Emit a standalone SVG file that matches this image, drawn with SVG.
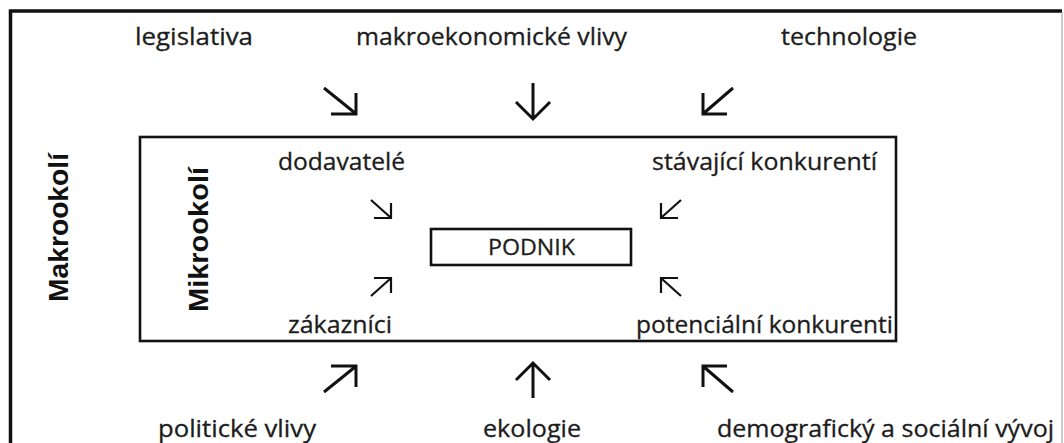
<svg xmlns="http://www.w3.org/2000/svg" width="1064" height="443" viewBox="0 0 1064 443">
  <style>
    .lbl { font-family: "Open Sans", "Noto Sans", "Liberation Sans", sans-serif; font-size: 24px; fill: #1c1c1c; stroke: #1c1c1c; stroke-width: 0.3; }
    .small { font-size: 22px; }
    .title { font-family: "Liberation Sans", Arial, sans-serif; font-weight: bold; font-size: 28px; fill: #111; text-anchor: middle; }
    .frame { fill: none; stroke: #111; }
    .arrow { fill: none; stroke: #111; stroke-linecap: butt; stroke-linejoin: miter; }
    .big { stroke-width: 3; }
    .sm { stroke-width: 2.2; }
  </style>

  <rect width="1064" height="443" fill="#fff"/>

  <!-- outer frame: macro environment -->
  <g id="makrookoli">
    <path class="frame" d="M10.5,450 V11 H1062" stroke-width="3.5"/>
    <line x1="1062" y1="12" x2="1062" y2="450" stroke="#9a9a9a" stroke-width="1"/>
    <text class="title" transform="translate(68,227.5) rotate(-90)" textLength="149" lengthAdjust="spacingAndGlyphs">Makrookolí</text>
  </g>

  <!-- inner frame: micro environment -->
  <g id="mikrookoli">
    <rect class="frame" x="140" y="137" width="756" height="204" stroke-width="2.6"/>
    <text class="title" transform="translate(208,239.5) rotate(-90)" textLength="145" lengthAdjust="spacingAndGlyphs">Mikrookolí</text>
  </g>

  <!-- centre: the company -->
  <g id="podnik">
    <rect class="frame" x="431" y="229" width="200" height="36" stroke-width="2.6"/>
    <text class="lbl small" x="488" y="255" textLength="87" lengthAdjust="spacingAndGlyphs">PODNIK</text>
  </g>

  <!-- macro factors -->
  <g id="legislativa"><text class="lbl" x="135" y="45" textLength="118" lengthAdjust="spacingAndGlyphs">legislativa</text></g>
  <g id="makroekonomicke-vlivy"><text class="lbl" x="356" y="45" textLength="271" lengthAdjust="spacingAndGlyphs">makroekonomické vlivy</text></g>
  <g id="technologie"><text class="lbl" x="781" y="45" textLength="136" lengthAdjust="spacingAndGlyphs">technologie</text></g>
  <g id="politicke-vlivy"><text class="lbl" x="158" y="437" textLength="158" lengthAdjust="spacingAndGlyphs">politické vlivy</text></g>
  <g id="ekologie"><text class="lbl" x="483" y="437" textLength="98" lengthAdjust="spacingAndGlyphs">ekologie</text></g>
  <g id="demograficky-vyvoj"><text class="lbl" x="717" y="437" textLength="337" lengthAdjust="spacingAndGlyphs">demografický a sociální vývoj</text></g>

  <!-- micro factors -->
  <g id="dodavatele"><text class="lbl" x="278" y="170" textLength="127" lengthAdjust="spacingAndGlyphs">dodavatelé</text></g>
  <g id="stavajici-konkurenti"><text class="lbl" x="652" y="170" textLength="225" lengthAdjust="spacingAndGlyphs">stávající konkurentí</text></g>
  <g id="zakaznici"><text class="lbl" x="288" y="333" textLength="104" lengthAdjust="spacingAndGlyphs">zákazníci</text></g>
  <g id="potencialni-konkurenti"><text class="lbl" x="636" y="333" textLength="257" lengthAdjust="spacingAndGlyphs">potenciální konkurenti</text></g>

  <!-- influence arrows -->
  <g id="connectors">
    <!-- macro, top row -->
    <path class="arrow big" d="M324,88 L355,113 M356,93 V114 H331"/>
    <path class="arrow big" d="M533,83 V119 M516,102 L533,119 L550,102"/>
    <path class="arrow big" d="M733,88 L704,113 M703,93 V114 H727"/>
    <!-- macro, bottom row -->
    <path class="arrow big" d="M324,392 L355,367 M356,387 V366 H331"/>
    <path class="arrow big" d="M533,398 V363 M516,380 L533,363 L550,380"/>
    <path class="arrow big" d="M733,392 L704,367 M703,387 V366 H727"/>
    <!-- micro -->
    <path class="arrow sm" d="M371,200 L390,217 M391,203 V218 H374"/>
    <path class="arrow sm" d="M371,296 L390,279 M391,293 V278 H374"/>
    <path class="arrow sm" d="M681,200 L662,217 M661,203 V218 H678"/>
    <path class="arrow sm" d="M681,296 L662,279 M661,293 V278 H678"/>
  </g>
</svg>
